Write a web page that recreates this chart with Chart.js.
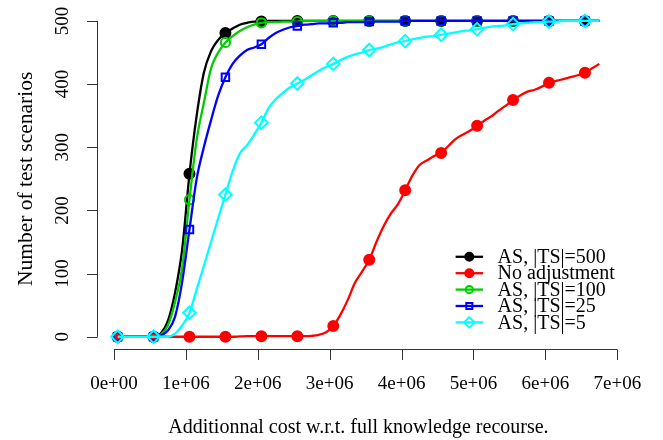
<!DOCTYPE html>
<html>
<head>
<meta charset="utf-8">
<script src="https://cdn.jsdelivr.net/npm/chart.js@4.4.1/dist/chart.umd.min.js"></script>
<style>
  html, body { margin: 0; padding: 0; background: #fff; }
  #wrap { width: 663px; height: 440px; }
</style>
</head>
<body>
<div id="wrap"><canvas id="myChart" width="663" height="440"></canvas></div>
<script>
// x values in millions (additional cost / 1e6)
const costX = [0.05, 0.15, 0.25, 0.35, 0.45, 0.55, 0.65, 0.75, 0.85, 0.95,
               1.05, 1.15, 1.25, 1.35, 1.45, 1.55, 1.65, 1.75, 1.85, 1.95,
               2.05, 2.15, 2.25, 2.35, 2.45, 2.55, 2.65, 2.75, 2.85, 2.95,
               3.05, 3.15, 3.25, 3.35, 3.45, 3.55, 3.65, 3.75, 3.85, 3.95,
               4.05, 4.15, 4.25, 4.35, 4.45, 4.55, 4.65, 4.75, 4.85, 4.95,
               5.05, 5.15, 5.25, 5.35, 5.45, 5.55, 5.65, 5.75, 5.85, 5.95,
               6.05, 6.15, 6.25, 6.35, 6.45, 6.55, 6.65, 6.75];

const as500 = [0, 0, 0, 0, 0, 0, 5, 25, 70, 140,
               258, 350, 418, 452, 470, 481, 488, 494, 497, 499,
               499, 500, 500, 500, 500, 500, 500, 500, 500, 500,
               500, 500, 500, 500, 500, 500, 500, 500, 500, 500,
               500, 500, 500, 500, 500, 500, 500, 500, 500, 500,
               500, 500, 500, 500, 500, 500, 500, 500, 500, 500,
               500, 500, 500, 500, 500, 500, 500, 500];

const noAdjust = [0, 0, 0, 0, 0, 0, 0, 0, 0, 0,
                  0, 0, 0, 0, 0, 0, 0, 0.5, 1, 1,
                  1, 1, 1, 1, 1, 1, 1, 1.5, 3, 7,
                  17, 35, 58, 85, 103, 122, 150, 175, 195, 210,
                  232, 255, 272, 279, 286, 291, 302, 313, 320, 326,
                  334, 342, 349, 358, 366, 375, 382, 388, 391, 396,
                  402, 405, 408, 411, 414, 418, 425, 432];

const as100 = [0, 0, 0, 0, 0, 0, 3, 18, 55, 110,
               217, 312, 370, 425, 450, 466, 476, 484, 490, 494,
               497, 498, 498, 499, 499, 499, 500, 500, 500, 500,
               500, 500, 500, 500, 500, 500, 500, 500, 500, 500,
               500, 500, 500, 500, 500, 500, 500, 500, 500, 500,
               500, 500, 500, 500, 500, 500, 500, 500, 500, 500,
               500, 500, 500, 500, 500, 500, 500, 500];

const as25 = [0, 0, 0, 0, 0, 0, 2, 10, 32, 88,
              170, 250, 300, 343, 382, 411, 432, 445, 454, 458,
              463, 473, 481, 486, 490, 492, 494, 495, 496, 496,
              497, 497, 498, 498, 498, 499, 499, 499, 499, 499,
              500, 500, 500, 500, 500, 500, 500, 500, 500, 500,
              500, 500, 500, 500, 500, 500, 500, 500, 500, 500,
              500, 500, 500, 500, 500, 500, 500, 500];

const as5 = [0, 0, 0, 0, 0, 0, 0, 0, 5, 18,
             38, 75, 112, 150, 188, 225, 262, 290, 303, 320,
             339, 362, 376, 386, 395, 401, 407, 414, 421, 427,
             432, 438, 443, 447, 450, 454, 456, 459, 463, 466,
             468, 471, 473, 475, 476, 478, 480, 482, 484, 485,
             487, 489, 491, 492, 493, 495, 496, 497, 498, 498,
             499, 499, 500, 500, 500, 500, 500, 500];

const seriesLabels = ['AS, |TS|=500', 'No adjustment', 'AS, |TS|=100', 'AS, |TS|=25', 'AS, |TS|=5'];
const seriesValues = [as500, noAdjust, as100, as25, as5];

const xTickValues = [0, 1, 2, 3, 4, 5, 6, 7];
const xTickLabels = ['0e+00', '1e+06', '2e+06', '3e+06', '4e+06', '5e+06', '6e+06', '7e+06'];
const yTickValues = [0, 100, 200, 300, 400, 500];

const xTitle = 'Additionnal cost w.r.t. full knowledge recourse.';
const yTitle = 'Number of test scenarios';

// ------------------------------------------------------------------
// styles (R-like: pch 19, 19, 1, 0, 5)
const colors = ['#000000', '#ff0000', '#00cd00', '#0000ff', '#00ffff'];
const pStyles = ['circle', 'circle', 'circle', 'rect', 'rectRot'];
const pFilled = [true, true, false, false, false];
const pRadius = [5, 5, 4.6, 5.3, 6.3];
const serif = "'Liberation Serif', 'DejaVu Serif', serif";

const datasets = seriesValues.map((vals, k) => ({
  label: seriesLabels[k],
  data: costX.map((x, i) => ({ x: x, y: vals[i] })),
  borderColor: colors[k],
  backgroundColor: pFilled[k] ? colors[k] : 'rgba(0,0,0,0)',
  pointBorderColor: colors[k],
  pointBackgroundColor: pFilled[k] ? colors[k] : 'rgba(0,0,0,0)',
  pointStyle: pStyles[k],
  borderWidth: 2.3,
  pointBorderWidth: 2,
  // marker only every 5th sample, like the original
  pointRadius: ctx => (ctx.dataIndex % 5 === 0 ? pRadius[k] : 0),
  pointHoverRadius: 0,
  cubicInterpolationMode: 'monotone',
  fill: false,
  order: seriesValues.length - k
}));

// R style axes, titles and legend drawn from the chart scales
const rAxes = {
  id: 'rAxes',
  afterDraw(chart) {
    const ctx = chart.ctx;
    const xs = chart.scales.x, ys = chart.scales.y;
    const area = chart.chartArea;
    ctx.save();
    ctx.strokeStyle = '#333';
    ctx.lineWidth = 1;
    ctx.fillStyle = '#000';

    // x axis
    const xa = Math.round(area.bottom) + 0.5;
    const xFirst = xs.getPixelForValue(xTickValues[0]);
    const xLast = xs.getPixelForValue(xTickValues[xTickValues.length - 1]);
    ctx.beginPath();
    ctx.moveTo(xFirst, xa); ctx.lineTo(xLast, xa);
    xTickValues.forEach(v => {
      const px = Math.round(xs.getPixelForValue(v)) + 0.5;
      ctx.moveTo(px, xa); ctx.lineTo(px, xa + 10.5);
    });
    ctx.stroke();
    ctx.font = '19px ' + serif;
    ctx.textAlign = 'center';
    ctx.textBaseline = 'alphabetic';
    xTickValues.forEach((v, i) => {
      ctx.fillText(xTickLabels[i], xs.getPixelForValue(v), xa + 39);
    });

    // y axis
    const ya = Math.round(area.left) - 0.5;
    const yFirst = ys.getPixelForValue(yTickValues[0]);
    const yLast = ys.getPixelForValue(yTickValues[yTickValues.length - 1]);
    ctx.beginPath();
    ctx.moveTo(ya, yFirst); ctx.lineTo(ya, yLast);
    yTickValues.forEach(v => {
      const py = Math.round(ys.getPixelForValue(v)) + 0.5;
      ctx.moveTo(ya, py); ctx.lineTo(ya - 10.5, py);
    });
    ctx.stroke();
    yTickValues.forEach(v => {
      ctx.save();
      ctx.translate(ya - 29.5, ys.getPixelForValue(v));
      ctx.rotate(-Math.PI / 2);
      ctx.fillText(String(v), 0, 0);
      ctx.restore();
    });

    // titles
    ctx.font = '20px ' + serif;
    ctx.fillText(xTitle, (area.left + area.right) / 2, 433);
    ctx.save();
    ctx.font = '21.5px ' + serif;
    ctx.translate(32, (area.top + area.bottom) / 2);
    ctx.rotate(-Math.PI / 2);
    ctx.fillText(yTitle, 0, 0);
    ctx.restore();

    // legend (bottom right, inside the plot)
    const textX = area.right - 121;
    const rowH = 16.4;
    const n = seriesLabels.length;
    ctx.textAlign = 'left';
    ctx.textBaseline = 'middle';
    chart.data.datasets.forEach((ds, i) => {
      const y = area.bottom - 27 - (n - 1 - i) * rowH;
      ctx.strokeStyle = colors[i];
      ctx.lineWidth = 2.3;
      ctx.beginPath();
      ctx.moveTo(textX - 42, y); ctx.lineTo(textX - 14.5, y);
      ctx.stroke();
      ctx.lineWidth = 2;
      ctx.fillStyle = pFilled[i] ? colors[i] : 'rgba(0,0,0,0)';
      Chart.helpers.drawPoint(ctx, { pointStyle: pStyles[i], radius: pRadius[i] - 1, borderWidth: 2, rotation: 0 }, textX - 28.3, y);
      ctx.fillStyle = '#000';
      ctx.fillText(ds.label, textX, y + 1);
    });
    ctx.restore();
  }
};

const chart = new Chart(document.getElementById('myChart').getContext('2d'), {
  type: 'line',
  data: { datasets: datasets },
  options: {
    responsive: false,
    animation: false,
    events: [],
    layout: { padding: { left: 98.3, right: 44.4, top: 5.6, bottom: 90.6 } },
    scales: {
      x: { type: 'linear', min: -0.218, max: 7.018, display: false },
      y: { type: 'linear', min: -20, max: 520, display: false }
    },
    plugins: {
      legend: { display: false },
      tooltip: { enabled: false }
    }
  },
  plugins: [rAxes]
});
</script>
</body>
</html>
